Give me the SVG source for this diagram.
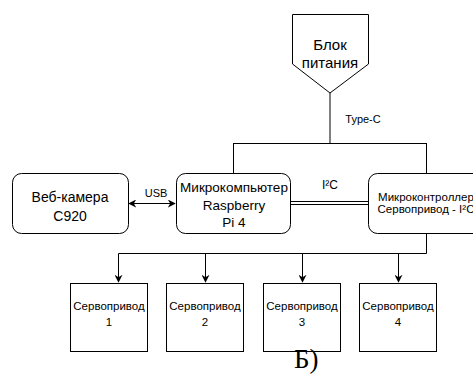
<svg xmlns="http://www.w3.org/2000/svg" width="473" height="374" viewBox="0 0 473 374">
<style>
.box{fill:#fff;stroke:#000;stroke-width:1}
.ln{fill:none;stroke:#000;stroke-width:1}
.t{font-family:"Liberation Sans",Arial,sans-serif;fill:#000;text-anchor:middle}
</style>
<defs>
<marker id="ah" viewBox="0 0 10 10" refX="9" refY="5" markerWidth="8" markerHeight="8" markerUnits="userSpaceOnUse" orient="auto-start-reverse">
<path d="M0,0 L10,5 L0,10 L3,5 Z" fill="#000"/>
</marker>
</defs>
<rect width="473" height="374" fill="#fff"/>
<g id="connectors">
<path class="ln" d="M330,93 V143"/>
<path class="ln" d="M233.5,143.5 H426.5"/>
<path class="ln" d="M233.5,143 V173"/>
<path class="ln" d="M426.5,143 V173"/>
<path class="ln" d="M129,203.5 H175" marker-start="url(#ah)" marker-end="url(#ah)"/>
<path class="ln" d="M290,201.5 H368 M290,204.5 H368"/>
<path class="ln" d="M426.5,233 V253.5 H118.5 V282" marker-end="url(#ah)"/>
<path class="ln" d="M205.5,253 V282" marker-end="url(#ah)"/>
<path class="ln" d="M302.5,253 V282" marker-end="url(#ah)"/>
<path class="ln" d="M398.5,253 V282" marker-end="url(#ah)"/>
<text class="t" x="363" y="123" font-size="11">Type-C</text>
<text class="t" x="156" y="197" font-size="11">USB</text>
<text class="t" x="330" y="189" font-size="12">I²C</text>
</g>
<g id="power">
<path class="box" d="M292.5,14.5 H368.5 V64 L330,93 L292.5,64 Z"/>
<text class="t" x="330" y="50" font-size="15">Блок</text>
<text class="t" x="330" y="68" font-size="15">питания</text>
</g>
<g id="webcam">
<rect class="box" x="12.5" y="173.5" width="116" height="60" rx="9"/>
<text class="t" x="70" y="202" font-size="14">Веб-камера</text>
<text class="t" x="70" y="221" font-size="14">C920</text>
</g>
<g id="raspberry">
<rect class="box" x="176.5" y="173.5" width="114" height="60" rx="9"/>
<text class="t" x="234" y="192" font-size="13.5">Микрокомпьютер</text>
<text class="t" x="234" y="210" font-size="13.5">Raspberry</text>
<text class="t" x="234" y="227" font-size="13.5">Pi 4</text>
</g>
<g id="mcu">
<rect class="box" x="368.5" y="173.5" width="117" height="60" rx="9"/>
<text class="t" x="426" y="201" font-size="11.5">Микроконтроллер</text>
<text class="t" x="426" y="213" font-size="11.5">Сервопривод - I²C</text>
</g>
<g id="servo1">
<rect class="box" x="70.5" y="283.5" width="77" height="68"/>
<text class="t" x="109" y="310" font-size="11.5">Сервопривод</text>
<text class="t" x="109" y="326" font-size="11.5">1</text>
</g>
<g id="servo2">
<rect class="box" x="166.5" y="283.5" width="77" height="68"/>
<text class="t" x="205" y="310" font-size="11.5">Сервопривод</text>
<text class="t" x="205" y="326" font-size="11.5">2</text>
</g>
<g id="servo3">
<rect class="box" x="263.5" y="283.5" width="77" height="68"/>
<text class="t" x="302" y="310" font-size="11.5">Сервопривод</text>
<text class="t" x="302" y="326" font-size="11.5">3</text>
</g>
<g id="servo4">
<rect class="box" x="359.5" y="283.5" width="77" height="68"/>
<text class="t" x="398" y="310" font-size="11.5">Сервопривод</text>
<text class="t" x="398" y="326" font-size="11.5">4</text>
</g>
<text x="294" y="368" font-family="'Liberation Serif','Times New Roman',serif" font-size="27" fill="#000">Б)</text>
</svg>
